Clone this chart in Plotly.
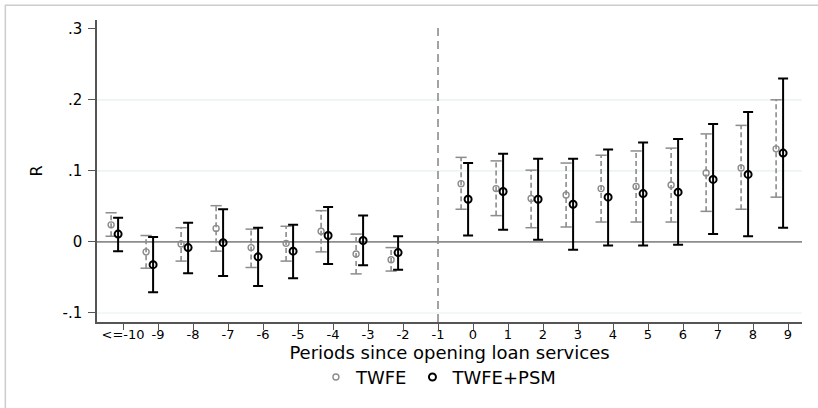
import plotly.graph_objects as go

# ---- data ----
PERIODS = [-10, -9, -8, -7, -6, -5, -4, -3, -2, 0, 1, 2, 3, 4, 5, 6, 7, 8, 9]
TWFE_EST = [0.024, -0.014, -0.003, 0.019, -0.008, -0.002, 0.015, -0.017, -0.025,
            0.082, 0.075, 0.061, 0.066, 0.075, 0.078, 0.080, 0.097, 0.104, 0.131]
TWFE_LO = [0.008, -0.037, -0.027, -0.013, -0.036, -0.027, -0.014, -0.045, -0.041,
           0.046, 0.037, 0.020, 0.021, 0.028, 0.028, 0.028, 0.043, 0.046, 0.063]
TWFE_HI = [0.041, 0.009, 0.020, 0.051, 0.018, 0.022, 0.044, 0.011, -0.008,
           0.119, 0.114, 0.101, 0.111, 0.122, 0.128, 0.132, 0.152, 0.164, 0.200]
PSM_EST = [0.011, -0.032, -0.008, -0.001, -0.021, -0.013, 0.009, 0.002, -0.015,
           0.060, 0.071, 0.060, 0.053, 0.063, 0.068, 0.070, 0.088, 0.095, 0.125]
PSM_LO = [-0.013, -0.071, -0.044, -0.048, -0.062, -0.051, -0.031, -0.033, -0.039,
          0.009, 0.017, 0.003, -0.011, -0.005, -0.005, -0.004, 0.011, 0.008, 0.020]
PSM_HI = [0.034, 0.007, 0.027, 0.046, 0.020, 0.024, 0.049, 0.037, 0.008,
          0.111, 0.124, 0.117, 0.117, 0.130, 0.140, 0.145, 0.166, 0.183, 0.230]

X_TICKS = list(range(-10, 10))
X_TICKTEXT = ["<=-10"] + [str(i) for i in range(-9, 10)]
Y_TICKS = [-0.1, 0, 0.1, 0.2, 0.3]
Y_TICKTEXT = ["-.1", "0", ".1", ".2", ".3"]
GRID_Y = [-0.1, 0.1, 0.2]
REF_PERIOD = -1

# ---- style ----
TWFE_OFFSET = -0.34
PSM_OFFSET = -0.14
GRAY = "#8c8c8c"
FONT = "DejaVu Sans"

tx = [p + TWFE_OFFSET for p in PERIODS]
px = [p + PSM_OFFSET for p in PERIODS]

fig = go.Figure()

# TWFE dashed stems
sx, sy = [], []
for x, lo, hi in zip(tx, TWFE_LO, TWFE_HI):
    sx += [x, x, None]
    sy += [lo, hi, None]
fig.add_trace(go.Scatter(x=sx, y=sy, mode="lines", showlegend=False, hoverinfo="skip",
                         line=dict(color=GRAY, width=1.6, dash="5px,3px")))
# TWFE caps
fig.add_trace(go.Scatter(x=tx + tx, y=TWFE_LO + TWFE_HI, mode="markers", showlegend=False,
                         hoverinfo="skip",
                         marker=dict(symbol="line-ew", size=8,
                                     line=dict(color=GRAY, width=1.5))))
# TWFE points
fig.add_trace(go.Scatter(x=tx, y=TWFE_EST, mode="markers", name="TWFE",
                         marker=dict(symbol="circle-open", size=6,
                                     color=GRAY, line=dict(color=GRAY, width=1.4))))
# PSM points with CI
fig.add_trace(go.Scatter(
    x=px, y=PSM_EST, mode="markers", name="TWFE+PSM",
    marker=dict(symbol="circle-open", size=7, color="black",
                line=dict(color="black", width=2)),
    error_y=dict(type="data", symmetric=False,
                 array=[h - e for h, e in zip(PSM_HI, PSM_EST)],
                 arrayminus=[e - l for e, l in zip(PSM_EST, PSM_LO)],
                 color="black", thickness=2, width=5)))

shapes = []
for g in GRID_Y:
    shapes.append(dict(type="line", xref="paper", yref="y", x0=0, x1=1, y0=g, y1=g,
                       line=dict(color="#e6efef", width=1.2), layer="below"))
shapes.append(dict(type="line", xref="paper", yref="y", x0=0, x1=1, y0=0, y1=0,
                   line=dict(color="#8c8c8c", width=1.6), layer="below"))
shapes.append(dict(type="line", xref="x", yref="paper", x0=REF_PERIOD, x1=REF_PERIOD,
                   y0=0, y1=0.99, line=dict(color="#8c8c8c", width=1.6, dash="8px,5px"),
                   layer="below"))
# outer frame (top and left edges visible only)
shapes.append(dict(type="rect", xref="paper", yref="paper", x0=-0.13, x1=1.2,
                   y0=-0.5, y1=1.049, line=dict(color="#cccccc", width=1.5),
                   fillcolor="rgba(0,0,0,0)", layer="below"))

fig.update_layout(
    width=818, height=408,
    margin=dict(l=97, r=16, t=20, b=86),
    paper_bgcolor="white", plot_bgcolor="white",
    font=dict(family=FONT, color="black"),
    shapes=shapes,
    showlegend=True,
    legend=dict(orientation="h", x=0.485, xanchor="center", y=-0.183, yanchor="middle",
                font=dict(family=FONT, size=18, color="black"), itemwidth=30,
                bgcolor="rgba(0,0,0,0)"),
    xaxis=dict(range=[-10.743, 9.4], tickmode="array", tickvals=X_TICKS,
               ticktext=X_TICKTEXT, showgrid=False, zeroline=False,
               showline=True, linecolor="#555555", linewidth=1.5,
               ticks="outside", ticklen=6, tickwidth=1.3, tickcolor="#555555",
               ticklabelstandoff=-6,
               tickfont=dict(family=FONT, size=13, color="black"),
               title=dict(text="Periods since opening loan services",
                          font=dict(family=FONT, size=18, color="black"), standoff=0)),
    yaxis=dict(range=[-0.1127, 0.3123], tickmode="array", tickvals=Y_TICKS,
               ticktext=Y_TICKTEXT, showgrid=False, zeroline=False,
               showline=True, linecolor="#555555", linewidth=1.5,
               ticks="outside", ticklen=7, tickwidth=1.3, tickcolor="#555555",
               ticklabelstandoff=3,
               tickfont=dict(family=FONT, size=15, color="black"),
               title=dict(text="R", font=dict(family=FONT, size=16, color="black"),
                          standoff=16)),
)

fig.write_html("out.html")
